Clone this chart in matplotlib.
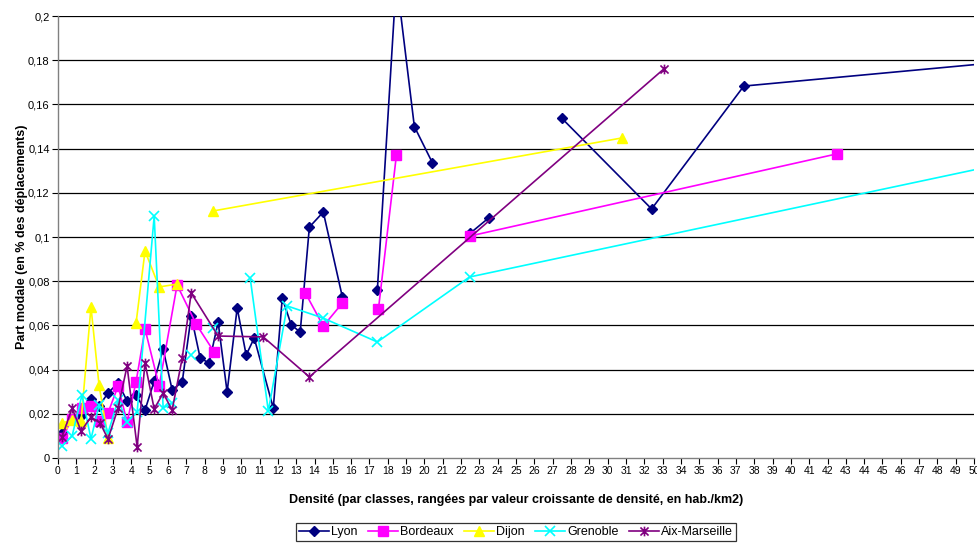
import matplotlib
matplotlib.use("Agg")
import matplotlib.pyplot as plt
from matplotlib.path import Path
import numpy as np

nan = np.nan

# ── data (nan = empty cell -> line break) ────────────────────────────────────
lyon_x = [0.22, 0.77, 1.26, 1.8, 2.24, 2.73, 3.28, 3.77, 4.26, 4.75, 5.25, 5.74,
          6.23, 6.78, 7.27, 7.76, 8.25, 8.74, 9.23, 9.78, 10.27, 10.71, 11.75,
          12.24, 12.73, 13.22, 13.72, 14.48, 15.52, nan, 17.43, 18.47, 19.45,
          20.44, nan, 22.51, 23.5, nan, 27.49, 32.4, 37.43, 60]
lyon_y = [0.0113, 0.017, 0.019, 0.0267, 0.0235, 0.0294, 0.034, 0.0258, 0.0285,
          0.0217, 0.0348, 0.0493, 0.0308, 0.0344, 0.0643, 0.0452, 0.043, 0.0615,
          0.0299, 0.0679, 0.0466, 0.0543, 0.0226, 0.0724, 0.0602, 0.057, 0.1045,
          0.1113, 0.0729, nan, 0.076, 0.217, 0.150, 0.1335, nan, 0.1018, 0.1086,
          nan, 0.1538, 0.1127, 0.1683, 0.1857]

bordeaux_x = [0.22, 0.77, 1.31, 1.8, 2.3, 2.73, 3.28, 3.77, 4.26, 4.75, 5.52,
              6.5, 7.54, 8.52, nan, 13.5, 14.48, 15.52, nan, 17.49, 18.47, nan,
              22.46, 42.5]
bordeaux_y = [0.009, 0.0176, 0.0226, 0.0235, 0.0167, 0.0204, 0.0326, 0.0163,
              0.0344, 0.0584, 0.0326, 0.0783, 0.0606, 0.048, nan, 0.0747, 0.0597,
              0.0701, nan, 0.0674, 0.137, nan, 0.1004, 0.1376]

dijon_x = [0.22, 0.77, 1.26, 1.8, 2.24, 2.73, nan, 4.26, 4.75, 5.52, 6.5, nan,
           8.47, 30.76]
dijon_y = [0.0158, 0.0172, 0.0167, 0.0683, 0.033, 0.009, nan, 0.061, 0.0937,
           0.0774, 0.0787, nan, 0.1118, 0.1448]

grenoble_x = [0.22, 0.77, 1.31, 1.8, 2.24, 2.73, 3.28, 3.77, 4.32, 5.25, 5.74,
              6.23, nan, 7.27, nan, 8.47, nan, 10.49, 11.48, 12.51, 14.48, 17.43,
              22.46, 60]
grenoble_y = [0.0054, 0.01, 0.0285, 0.0086, 0.024, 0.0113, 0.0262, 0.0163,
              0.0208, 0.1095, 0.0226, 0.0249, nan, 0.0466, nan, 0.0588, nan,
              0.0814, 0.0213, 0.0688, 0.0633, 0.0525, 0.0819, 0.148]

aix_x = [0.22, 0.77, 1.26, 1.8, 2.3, 2.73, 3.28, 3.77, 4.32, 4.75, 5.25, 5.74,
         6.23, 6.78, 7.27, 8.74, 11.2, 13.72, 33.06]
aix_y = [0.0095, 0.0226, 0.0122, 0.0186, 0.0158, 0.0086, 0.0226, 0.0416, 0.005,
         0.043, 0.0222, 0.0294, 0.0217, 0.0452, 0.0747, 0.0552, 0.0548, 0.0367,
         0.176]

y_ticks = [0, 0.02, 0.04, 0.06, 0.08, 0.1, 0.12, 0.14, 0.16, 0.18, 0.2]
y_labels = ["0", "0,02", "0,04", "0,06", "0,08", "0,1", "0,12", "0,14",
            "0,16", "0,18", "0,2"]

plt.rcParams["font.family"] = ["Liberation Sans", "DejaVu Sans"]

# Excel-style star: an x with a vertical bar through it
star = Path([(-1, -1), (1, 1), (-1, 1), (1, -1), (0, -1.2), (0, 1.2)],
            [Path.MOVETO, Path.LINETO, Path.MOVETO, Path.LINETO,
             Path.MOVETO, Path.LINETO])

fig = plt.figure(figsize=(9.78, 5.45), dpi=100)
ax = fig.add_axes([0.0593, 0.1596, 0.9367, 0.811])

series = [
    ("Lyon", lyon_x, lyon_y, "#000080", "D", 5, {}),
    ("Bordeaux", bordeaux_x, bordeaux_y, "#FF00FF", "s", 6.5, {}),
    ("Dijon", dijon_x, dijon_y, "#FFFF00", "^", 7, {}),
    ("Grenoble", grenoble_x, grenoble_y, "#00FFFF", "x", 6.5, {"markeredgewidth": 1.2}),
    ("Aix-Marseille", aix_x, aix_y, "#800080", star, 7, {"markeredgewidth": 1.2,
                                                          "markerfacecolor": "none"}),
]
for name, xs, ys, col, mk, ms, extra in series:
    kw = {"markerfacecolor": col, "markeredgecolor": col}
    kw.update(extra)
    ax.plot(xs, ys, color=col, lw=1.2, marker=mk, markersize=ms, label=name, **kw)

ax.set_xlim(0, 50)
ax.set_ylim(0, 0.2)
ax.set_xticks(range(0, 51))
ax.set_xticklabels([str(i) for i in range(0, 51)], fontsize=7.5)
ax.set_yticks(y_ticks)
ax.set_yticklabels(y_labels, fontsize=8)
ax.tick_params(direction="out", length=4, width=0.8, pad=2)
for y in y_ticks[1:]:
    ax.axhline(y, color="black", lw=0.9, zorder=0)
for s in ("top", "right"):
    ax.spines[s].set_visible(False)
for s in ("left", "bottom"):
    ax.spines[s].set_color("#808080")
    ax.spines[s].set_linewidth(1.0)

ax.set_xlabel("Densité (par classes, rangées par valeur croissante de densité, en hab./km2)",
              fontsize=9, fontweight="bold", labelpad=13)
ax.set_ylabel("Part modale (en % des déplacements)", fontsize=9,
              fontweight="bold", labelpad=0)

leg = fig.legend(loc="center", bbox_to_anchor=(0.5275, 0.024), ncol=5,
                 fontsize=9, frameon=True, fancybox=False, borderpad=0.25,
                 handlelength=2.4, handletextpad=0.2, columnspacing=0.8)
leg.get_frame().set_edgecolor("black")
leg.get_frame().set_linewidth(0.9)

fig.savefig("out.png", dpi=100)
